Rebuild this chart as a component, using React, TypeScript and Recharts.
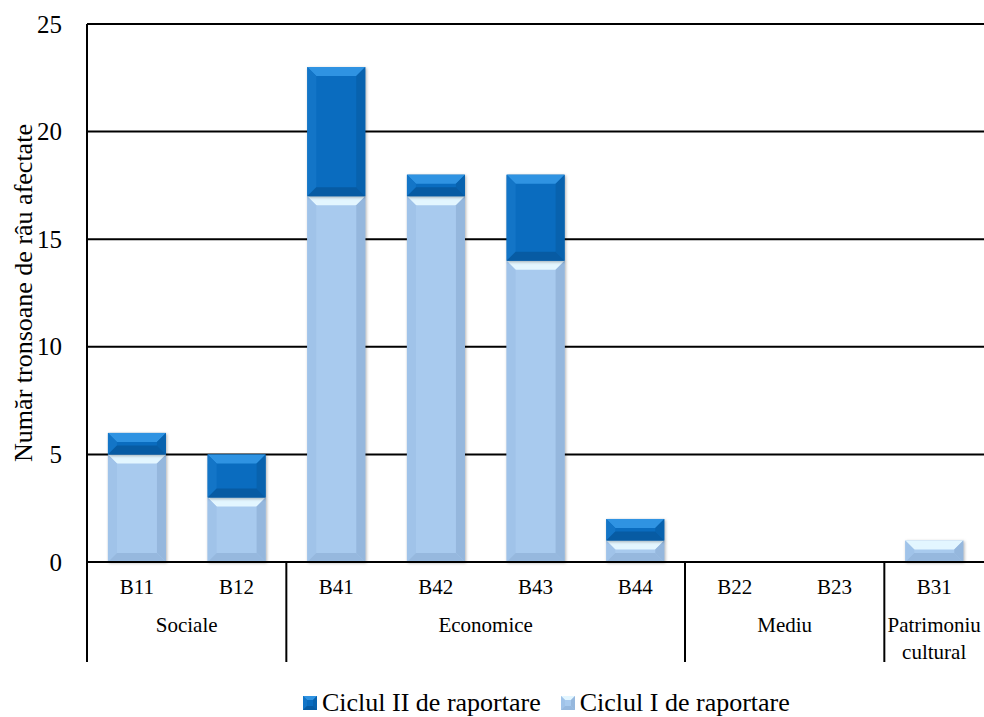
import { BarChart, Bar, XAxis, YAxis, CartesianGrid, Legend } from "recharts";

const codes = ["B11", "B12", "B41", "B42", "B43", "B44", "B22", "B23", "B31"];
const cycle1 = [5, 3, 17, 17, 14, 1, 0, 0, 1];
const cycle2 = [1, 2, 6, 1, 4, 1, 0, 0, 0];
const groupLabels = [["Sociale"], ["Economice"], ["Mediu"], ["Patrimoniu", "cultural"]];
const groupSizes = [2, 4, 2, 1];
const yTicks = [0, 5, 10, 15, 20, 25];
const seriesNames = ["Ciclul I de raportare", "Ciclul II de raportare"];
const yTitle = "Număr tronsoane de râu afectate";

const FONT = "Liberation Serif";

const LIGHT = { face: "#A8CAEE", top: "#E3F6FF", left: "#A0C3E9", right: "#95B7DD", bottom: "#96B8DE" };
const DARK = { face: "#0A6CBF", top: "#2F93E2", left: "#1375C7", right: "#0862AE", bottom: "#075BA3" };

const data = codes.map((code, i) => ({ code, c1: cycle1[i], c2: cycle2[i] }));

// index of first category in each group
const groupStarts = groupSizes.map((_, g) => groupSizes.slice(0, g).reduce((a, b) => a + b, 0));

/* eslint-disable @typescript-eslint/no-explicit-any */
function BevelBar(props: any) {
  const { x, y, width, height, tone, bevel = 9, shadow = true } = props;
  if (!height || height <= 0 || !width) return null;
  const b = Math.min(bevel, height / 2, width / 2);
  const x2 = x + width;
  const y2 = y + height;
  return (
    <g style={shadow ? { filter: "drop-shadow(1.5px 1px 1.5px rgba(0,0,0,0.3))" } : undefined}>
      <rect x={x} y={y} width={width} height={height} fill={tone.face} />
      <polygon points={`${x},${y} ${x2},${y} ${x2 - b},${y + b} ${x + b},${y + b}`} fill={tone.top} />
      <polygon points={`${x},${y} ${x + b},${y + b} ${x + b},${y2 - b} ${x},${y2}`} fill={tone.left} />
      <polygon points={`${x2},${y} ${x2},${y2} ${x2 - b},${y2 - b} ${x2 - b},${y + b}`} fill={tone.right} />
      <polygon points={`${x},${y2} ${x + b},${y2 - b} ${x2 - b},${y2 - b} ${x2},${y2}`} fill={tone.bottom} />
    </g>
  );
}

function CategoryTick(props: any) {
  const { x, y, payload } = props;
  const idx = payload.index;
  const half = payload.offset ?? 897 / 18;
  const g = groupStarts.indexOf(idx);
  const left = x - half;
  return (
    <g>
      <text x={x} y={y + 25} textAnchor="middle" dominantBaseline="central" fontFamily={FONT} fontSize={21} fill="#000">
        {payload.value}
      </text>
      {g >= 0 && (
        <g>
          <line x1={left} x2={left} y1={y} y2={y + 100} stroke="#000" strokeWidth={2} />
          {groupLabels[g].map((line, k) => (
            <text
              key={k}
              x={left + groupSizes[g] * half}
              y={y + 63 + k * 27}
              textAnchor="middle"
              dominantBaseline="central"
              fontFamily={FONT}
              fontSize={21}
              fill="#000"
            >
              {line}
            </text>
          ))}
        </g>
      )}
    </g>
  );
}

function ValueTick(props: any) {
  const { x, y, payload } = props;
  return (
    <text x={x} y={y} textAnchor="end" dominantBaseline="central" fontFamily={FONT} fontSize={25} fill="#000">
      {payload.value}
    </text>
  );
}

function YTitle(props: any) {
  const vb = props.viewBox || { x: 0, y: 24, width: 87, height: 538 };
  const cx = vb.x + 23;
  const cy = vb.y + vb.height / 2;
  return (
    <text
      x={cx}
      y={cy}
      transform={`rotate(-90, ${cx}, ${cy})`}
      textAnchor="middle"
      dominantBaseline="central"
      fontFamily={FONT}
      fontSize={26}
      fill="#000"
    >
      {yTitle}
    </text>
  );
}

function LegendContent() {
  const items = [
    { name: seriesNames[1], tone: DARK },
    { name: seriesNames[0], tone: LIGHT },
  ];
  return (
    <div
      style={{
        height: 55,
        boxSizing: "border-box",
        paddingTop: 27,
        paddingLeft: 303,
        display: "flex",
        alignItems: "center",
        fontFamily: FONT,
        fontSize: 26,
        color: "#000",
      }}
    >
      {items.map((it, i) => (
        <div key={i} style={{ display: "flex", alignItems: "center", marginRight: 20 }}>
          <svg width={14} height={14} style={{ marginRight: 5 }}>
            <BevelBar x={0} y={0} width={14} height={14} tone={it.tone} bevel={4} shadow={false} />
          </svg>
          <span style={{ lineHeight: "28px", whiteSpace: "nowrap" }}>{it.name}</span>
        </div>
      ))}
    </div>
  );
}
/* eslint-enable @typescript-eslint/no-explicit-any */

export default function App() {
  return (
    <div style={{ position: "absolute", left: 0, top: 0, width: 984, height: 717, background: "#fff", fontFamily: FONT }}>
      <BarChart
        width={984}
        height={717}
        data={data}
        margin={{ top: 24, right: 0, left: 0, bottom: 0 }}
        barCategoryGap="21%"
      >
        <CartesianGrid horizontal vertical={false} stroke="#000" strokeWidth={2} />
        <XAxis
          dataKey="code"
          height={100}
          axisLine={{ stroke: "#000", strokeWidth: 2 }}
          tickLine={false}
          tickSize={0}
          tickMargin={0}
          interval={0}
          tick={<CategoryTick />}
        />
        <YAxis
          width={87}
          domain={[0, 25]}
          ticks={yTicks}
          interval={0}
          axisLine={{ stroke: "#000", strokeWidth: 2 }}
          tickLine={false}
          tickSize={0}
          tickMargin={25}
          tick={<ValueTick />}
          label={<YTitle />}
        />
        <Legend verticalAlign="bottom" content={<LegendContent />} />
        <Bar
          dataKey="c1"
          name={seriesNames[0]}
          stackId="s"
          fill={LIGHT.face}
          isAnimationActive={false}
          shape={(p: any) => <BevelBar {...p} tone={LIGHT} />}
        />
        <Bar
          dataKey="c2"
          name={seriesNames[1]}
          stackId="s"
          fill={DARK.face}
          isAnimationActive={false}
          shape={(p: any) => <BevelBar {...p} tone={DARK} />}
        />
      </BarChart>
    </div>
  );
}
